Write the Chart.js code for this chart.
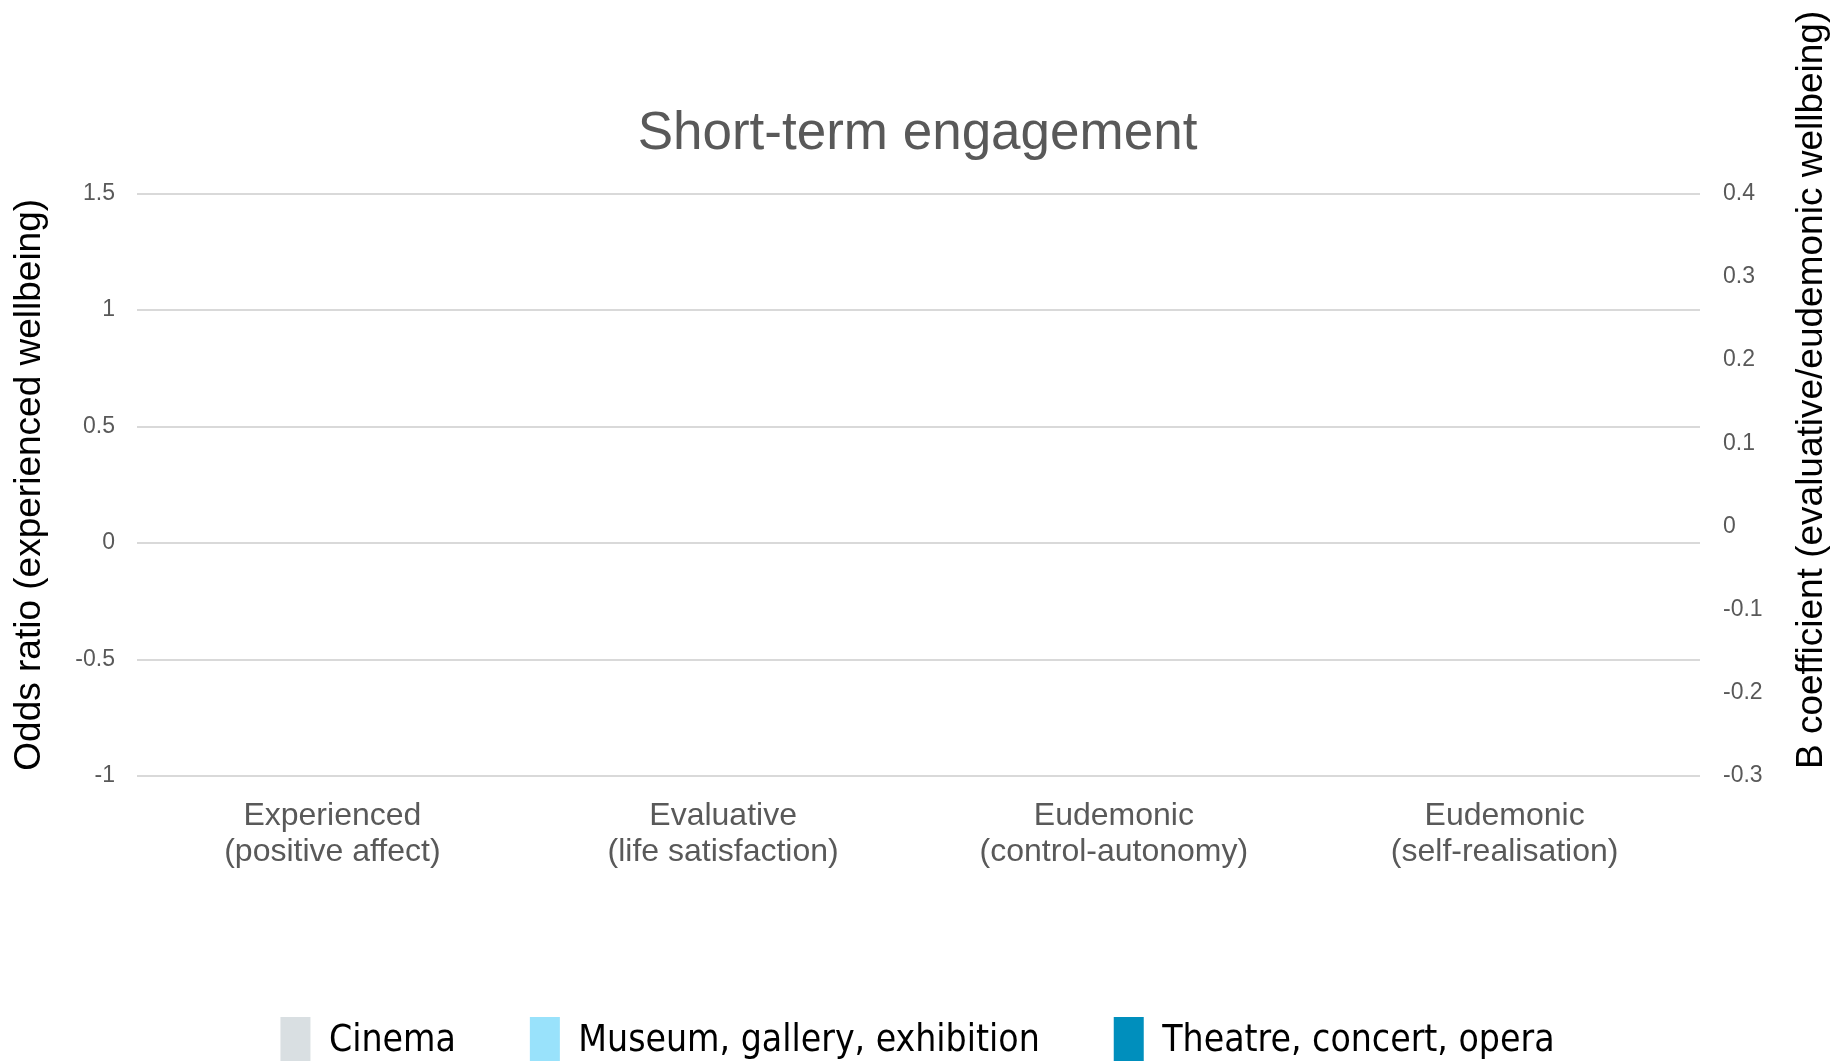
<!DOCTYPE html>
<html lang="en">
<head>
<meta charset="UTF-8">
<title>Short-term engagement</title>
<script src="https://cdn.jsdelivr.net/npm/chart.js"></script>
<style>
  html, body { margin: 0; padding: 0; background: #fff; }
  #chart { display: block; }
</style>
</head>
<body>
<canvas id="chart" width="1835" height="1061"></canvas>
<script>
// categories on the x axis (two-line labels)
const categories = [
    ['Experienced', '(positive affect)'],
    ['Evaluative', '(life satisfaction)'],
    ['Eudemonic', '(control-autonomy)'],
    ['Eudemonic', '(self-realisation)']
];
const seriesNames = ['Cinema', 'Museum, gallery, exhibition', 'Theatre, concert, opera'];

// no significant estimates in this panel, so every bar is empty
const cinema = [null, null, null, null];
const museum = [null, null, null, null];
const theatre = [null, null, null, null];

// tick values for the two y axes
const oddsTicks = [-1, -0.5, 0, 0.5, 1, 1.5];
const coefTicks = [-0.3, -0.2, -0.1, 0, 0.1, 0.2, 0.3, 0.4];

const seriesColors = ['#d9dfe2', '#99e2fb', '#008fbd'];

Chart.defaults.font.family = '"Liberation Sans", Arial, sans-serif';

// right axis title reads bottom-to-top, which the built-in title can't do
const rightTitle = {
    id: 'rightTitle',
    afterDraw(chart) {
        const ctx = chart.ctx;
        ctx.save();
        ctx.translate(chart.width - 23, chart.chartArea.bottom - 7);
        ctx.rotate(-Math.PI / 2);
        ctx.font = '37px "Liberation Sans", Arial, sans-serif';
        ctx.fillStyle = '#000';
        ctx.textAlign = 'left';
        ctx.textBaseline = 'middle';
        ctx.fillText('B coefficient (evaluative/eudemonic wellbeing)', 0, 0);
        ctx.restore();
    }
};

const plainLabel = v => `${v}`;

const ctx = document.getElementById('chart').getContext('2d');
const chart = new Chart(ctx, {
    type: 'bar',
    data: {
        labels: categories,
        datasets: [
            { label: seriesNames[0], data: cinema, backgroundColor: seriesColors[0], borderWidth: 0, yAxisID: 'y' },
            { label: seriesNames[1], data: museum, backgroundColor: seriesColors[1], borderWidth: 0, yAxisID: 'y' },
            { label: seriesNames[2], data: theatre, backgroundColor: seriesColors[2], borderWidth: 0, yAxisID: 'y' }
        ]
    },
    options: {
        responsive: false,
        animation: false,
        devicePixelRatio: 1,
        layout: { padding: { left: 0, right: 0, top: 0, bottom: -14 } },
        plugins: {
            title: {
                display: true,
                text: 'Short-term engagement',
                color: '#595959',
                font: { size: 53, weight: 'normal' },
                padding: { top: 103, bottom: 27 }
            },
            legend: {
                position: 'bottom',
                labels: {
                    color: '#000',
                    font: { family: '"Liberation Sans Narrow", "DejaVu Sans Condensed", sans-serif', size: 37 },
                    boxWidth: 30,
                    boxHeight: 48,
                    padding: 74
                }
            },
            tooltip: { enabled: false }
        },
        scales: {
            x: {
                grid: { display: false },
                border: { display: false },
                ticks: {
                    color: '#595959',
                    font: { size: 32, lineHeight: 1.13 },
                    padding: 14,
                    maxRotation: 0
                },
                afterFit(scale) { scale.height = 167; }
            },
            y: {
                position: 'left',
                min: -1,
                max: 1.5,
                grid: { color: '#d9d9d9', lineWidth: 2, drawTicks: false },
                border: { display: false },
                ticks: { color: '#595959', font: { size: 23 }, padding: 22, callback: plainLabel },
                afterBuildTicks(scale) { scale.ticks = oddsTicks.map(v => ({ value: v })); },
                title: {
                    display: true,
                    text: 'Odds ratio (experienced wellbeing)',
                    color: '#000',
                    font: { size: 37 },
                    padding: { top: 8, bottom: 0 }
                },
                afterFit(scale) { scale.width = 137; }
            },
            y2: {
                position: 'right',
                min: -0.3,
                max: 0.4,
                grid: { display: false },
                border: { display: false },
                ticks: { color: '#595959', font: { size: 23 }, padding: 15, callback: plainLabel },
                afterBuildTicks(scale) { scale.ticks = coefTicks.map(v => ({ value: v })); },
                afterFit(scale) { scale.width = 135; }
            }
        }
    },
    plugins: [rightTitle]
});
</script>
</body>
</html>
